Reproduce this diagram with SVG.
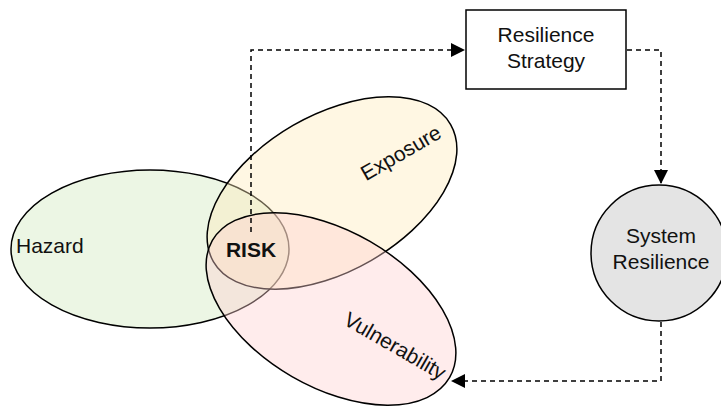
<svg xmlns="http://www.w3.org/2000/svg" width="721" height="410" viewBox="0 0 721 410">
  <style>
    .outline { stroke: #000; stroke-width: 1.5; }
    .label { font-family: "Liberation Sans", Arial, sans-serif; font-size: 21px; fill: #111; }
    .mid { text-anchor: middle; }
    .flow { fill: none; stroke: #000; stroke-width: 1.5; stroke-dasharray: 5 4; }
  </style>
  <defs>
    <marker id="arrow" viewBox="0 0 10 10" refX="10" refY="5" markerWidth="14" markerHeight="14" markerUnits="userSpaceOnUse" orient="auto">
      <path d="M0,0 L10,5 L0,10 Z" fill="#000"/>
    </marker>
  </defs>
  <rect width="721" height="410" fill="#fff"/>

  <!-- Risk venn: hazard, exposure, vulnerability -->
  <g id="hazard">
    <ellipse cx="150" cy="249" rx="139" ry="79" fill="#ECF6E4" class="outline"/>
    <text x="16" y="253" class="label">Hazard</text>
  </g>
  <g id="exposure">
    <ellipse cx="332" cy="193" rx="137" ry="78" transform="rotate(-30 332 193)" fill="#FFECBA" fill-opacity="0.4" class="outline"/>
    <text x="401" y="160" class="label mid" transform="rotate(-30 401 153)">Exposure</text>
  </g>
  <g id="vulnerability">
    <ellipse cx="331" cy="309" rx="137" ry="78" transform="rotate(30 331 309)" fill="#FFCFCF" fill-opacity="0.4" class="outline"/>
    <text x="395" y="353" class="label mid" transform="rotate(30 395 346)">Vulnerability</text>
  </g>
  <g id="risk">
    <text x="251" y="257" class="label mid" font-weight="bold" fill="#000">RISK</text>
  </g>

  <g id="resilience-strategy">
    <rect x="466" y="10" width="160" height="79" fill="#fff" class="outline"/>
    <text x="546" y="42" class="label mid">Resilience</text>
    <text x="546" y="68" class="label mid">Strategy</text>
  </g>

  <g id="system-resilience">
    <circle cx="659" cy="253" r="68" fill="#E4E4E4" class="outline"/>
    <text x="661" y="243" class="label mid">System</text>
    <text x="661" y="269" class="label mid">Resilience</text>
  </g>

  <g id="connectors">
    <path d="M251,232 V50 H465" class="flow" marker-end="url(#arrow)"/>
    <path d="M627,50 H661 V184" class="flow" marker-end="url(#arrow)"/>
    <path d="M661,322 V381 H451" class="flow" marker-end="url(#arrow)"/>
  </g>
</svg>
